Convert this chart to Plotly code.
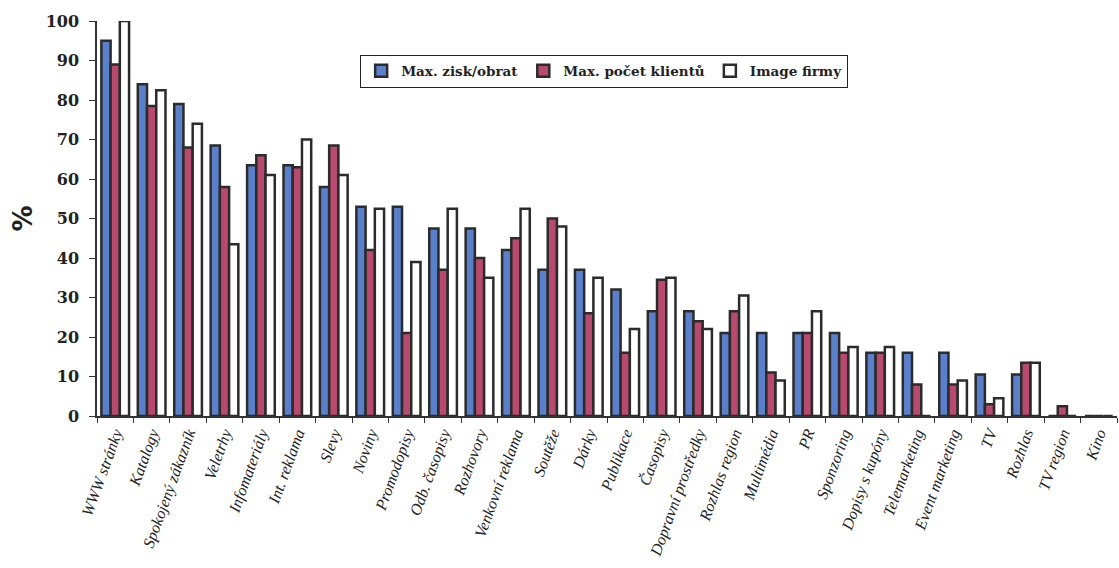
import plotly.graph_objects as go

categories = [
    "WWW stránky", "Katalogy", "Spokojený zákazník", "Veletrhy", "Infomateriály",
    "Int. reklama", "Slevy", "Noviny", "Promodopisy", "Odb. časopisy", "Rozhovory",
    "Venkovní reklama", "Soutěže", "Dárky", "Publikace", "Časopisy",
    "Dopravní prostředky", "Rozhlas region", "Multimédia", "PR", "Sponzoring",
    "Dopisy s kupóny", "Telemarketing", "Event marketing", "TV", "Rozhlas",
    "TV region", "Kino",
]

zisk_obrat = [95, 84, 79, 68.5, 63.5, 63.5, 58, 53, 53, 47.5, 47.5, 42, 37, 37, 32,
              26.5, 26.5, 21, 21, 21, 21, 16, 16, 16, 10.5, 10.5, 0, 0]
pocet_klientu = [89, 78.5, 68, 58, 66, 63, 68.5, 42, 21, 37, 40, 45, 50, 26, 16,
                 34.5, 24, 26.5, 11, 21, 16, 16, 8, 8, 3, 13.5, 2.5, 0]
image_firmy = [100, 82.5, 74, 43.5, 61, 70, 61, 52.5, 39, 52.5, 35, 52.5, 48, 35, 22,
               35, 22, 30.5, 9, 26.5, 17.5, 17.5, 0, 9, 4.5, 13.5, 0, 0]

y_ticks = list(range(0, 101, 10))

serif = "Liberation Serif"
wide_serif = "DejaVu Serif"
ink = "#222222"
outline = dict(color="#2b2b2b", width=2.5)

fig = go.Figure()
fig.add_trace(go.Bar(name="Max. zisk/obrat", x=categories, y=zisk_obrat,
                     marker=dict(color="#5a80cc", line=outline)))
fig.add_trace(go.Bar(name="Max. počet klientů", x=categories, y=pocet_klientu,
                     marker=dict(color="#b8496f", line=outline)))
fig.add_trace(go.Bar(name="Image firmy", x=categories, y=image_firmy,
                     marker=dict(color="#ffffff", line=outline)))

fig.update_layout(
    width=1119, height=568,
    margin=dict(l=97, r=2, t=21, b=152),
    paper_bgcolor="white", plot_bgcolor="white",
    barmode="group", bargap=0.24, bargroupgap=0.0,
    font=dict(family=serif, color=ink),
    legend=dict(
        orientation="h", x=0.258, y=0.915, xanchor="left", yanchor="top",
        bordercolor=ink, borderwidth=1, bgcolor="white",
        font=dict(family=wide_serif, size=13.5, color=ink, weight="bold"),
        itemwidth=30, tracegroupgap=0,
    ),
    showlegend=True,
)

# y-axis unit label, placed to the left of the tick labels
fig.add_annotation(
    text="%", xref="paper", yref="paper", x=-0.0735, y=0.5,
    xanchor="center", yanchor="middle", textangle=-90, showarrow=False,
    font=dict(family="DejaVu Sans", size=26, color=ink, weight="bold"),
)

fig.update_yaxes(
    range=[0, 100], tickvals=y_ticks, showgrid=False, zeroline=False,
    showline=True, linecolor="#333333", linewidth=1.5,
    ticks="outside", ticklen=6, tickcolor="#333333", ticklabelstandoff=7,
    tickfont=dict(family=wide_serif, size=16, color=ink, weight="bold"),
)

fig.update_xaxes(
    showgrid=False, showline=True, linecolor="#333333", linewidth=1.5,
    ticks="outside", ticklen=5, tickcolor="#333333", tickson="boundaries",
    tickangle=-70,
    tickfont=dict(family=serif, size=16, color=ink, style="italic"),
)

fig.write_html("out.html")
